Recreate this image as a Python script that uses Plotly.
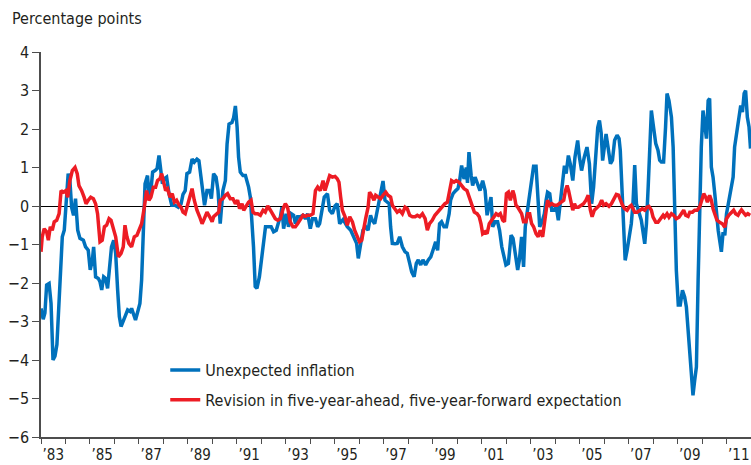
import plotly.graph_objects as go

# Unexpected inflation (blue); x in decimal years
blue_year = [
    1983.00, 1983.09, 1983.16, 1983.23, 1983.33, 1983.41, 1983.49, 1983.57, 1983.65, 1983.74,
    1983.82, 1983.87, 1983.95, 1984.02, 1984.11, 1984.18, 1984.25, 1984.33, 1984.41, 1984.50,
    1984.59, 1984.73, 1984.82, 1984.93, 1985.01, 1985.10, 1985.15, 1985.23, 1985.34, 1985.41,
    1985.48, 1985.56, 1985.64, 1985.72, 1985.80, 1985.88, 1985.97, 1986.05, 1986.13, 1986.20,
    1986.27, 1986.36, 1986.46, 1986.54, 1986.64, 1986.70, 1986.80, 1986.86, 1986.97, 1987.04,
    1987.11, 1987.18, 1987.25, 1987.35, 1987.42, 1987.49, 1987.56, 1987.66, 1987.74, 1987.82,
    1987.89, 1987.96, 1988.04, 1988.13, 1988.23, 1988.34, 1988.47, 1988.61, 1988.72, 1988.80,
    1988.89, 1988.96, 1989.07, 1989.17, 1989.26, 1989.37, 1989.45, 1989.54, 1989.62, 1989.68,
    1989.78, 1989.89, 1989.96, 1990.05, 1990.15, 1990.23, 1990.32, 1990.43, 1990.53, 1990.60,
    1990.68, 1990.80, 1990.87, 1990.94, 1991.01, 1991.07, 1991.14, 1991.25, 1991.35, 1991.42,
    1991.48, 1991.55, 1991.62, 1991.68, 1991.75, 1991.82, 1991.92, 1992.00, 1992.09, 1992.17,
    1992.30, 1992.40, 1992.50, 1992.61, 1992.71, 1992.78, 1992.84, 1992.91, 1993.02, 1993.11,
    1993.22, 1993.32, 1993.39, 1993.48, 1993.59, 1993.70, 1993.80, 1993.89, 1994.00, 1994.09,
    1994.21, 1994.30, 1994.38, 1994.48, 1994.57, 1994.70, 1994.79, 1994.90, 1995.01, 1995.10,
    1995.20, 1995.34, 1995.51, 1995.65, 1995.79, 1995.89, 1995.96, 1996.06, 1996.15, 1996.26,
    1996.36, 1996.46, 1996.53, 1996.63, 1996.71, 1996.81, 1996.89, 1996.97, 1997.05, 1997.15,
    1997.22, 1997.28, 1997.35, 1997.46, 1997.55, 1997.65, 1997.76, 1997.87, 1997.96, 1998.06,
    1998.14, 1998.24, 1998.33, 1998.41, 1998.51, 1998.60, 1998.71, 1998.82, 1998.92, 1999.01,
    1999.12, 1999.20, 1999.28, 1999.36, 1999.46, 1999.56, 1999.67, 1999.73, 1999.83, 1999.94,
    2000.03, 2000.10, 2000.18, 2000.28, 2000.37, 2000.42, 2000.48, 2000.57, 2000.63, 2000.73,
    2000.84, 2000.93, 2001.04, 2001.14, 2001.22, 2001.31, 2001.38, 2001.45, 2001.55, 2001.65,
    2001.73, 2001.82, 2001.90, 2001.99, 2002.09, 2002.20, 2002.28, 2002.36, 2002.47, 2002.54,
    2002.63, 2002.71, 2002.78, 2002.85, 2002.95, 2003.04, 2003.12, 2003.22, 2003.29, 2003.37,
    2003.47, 2003.56, 2003.63, 2003.69, 2003.78, 2003.86, 2003.97, 2004.04, 2004.13, 2004.21,
    2004.31, 2004.38, 2004.45, 2004.54, 2004.62, 2004.72, 2004.81, 2004.92, 2004.99, 2005.08,
    2005.19, 2005.30, 2005.40, 2005.49, 2005.57, 2005.67, 2005.74, 2005.81, 2005.88, 2005.94,
    2006.01, 2006.08, 2006.16, 2006.26, 2006.34, 2006.43, 2006.53, 2006.61, 2006.66, 2006.73,
    2006.80, 2006.86, 2006.94, 2007.02, 2007.11, 2007.18, 2007.25, 2007.32, 2007.39, 2007.52,
    2007.66, 2007.73, 2007.80, 2007.86, 2007.93, 2008.00, 2008.11, 2008.20, 2008.27, 2008.34,
    2008.43, 2008.51, 2008.57, 2008.65, 2008.75, 2008.82, 2008.88, 2008.95, 2009.03, 2009.11,
    2009.20, 2009.29, 2009.36, 2009.47, 2009.56, 2009.63, 2009.70, 2009.77, 2009.84, 2009.90,
    2009.97, 2010.04, 2010.11, 2010.18, 2010.25, 2010.31, 2010.38, 2010.45, 2010.52, 2010.59,
    2010.66, 2010.72, 2010.79, 2010.86, 2010.93, 2011.00, 2011.11, 2011.20, 2011.27, 2011.33,
    2011.43, 2011.51, 2011.58, 2011.65, 2011.72, 2011.78, 2011.85, 2011.92, 2011.98,
]
blue_value = [
    -2.66, -2.94, -2.78, -2.05, -2.01, -2.53, -4.00, -3.90, -3.60, -2.60,
    -1.58, -0.80, -0.63, 0.10, 0.84, 0.66, -0.03, -0.24, 0.19, -0.63,
    -0.84, -0.89, -1.06, -1.15, -1.66, -1.40, -1.06, -1.84, -1.88, -1.97,
    -2.18, -1.84, -1.88, -2.14, -1.49, -1.06, -0.89, -1.23, -2.18, -2.87,
    -3.13, -2.96, -2.83, -2.70, -2.74, -2.66, -2.83, -2.96, -2.70, -2.53,
    -1.92, -0.89, 0.58, 0.79, 0.23, 0.41, 0.88, 0.92, 0.97, 1.31,
    0.92, 0.58, 0.71, 0.75, 0.32, 0.02, 0.02, -0.03, 0.05, 0.30,
    0.40, 0.84, 0.88, 1.22, 1.14, 1.22, 1.18, 0.75, 0.23, 0.02,
    0.40, 0.40, 0.19, 0.84, 0.75, 0.40, -0.46, 0.40, 0.66, 1.61,
    2.13, 2.17, 2.30, 2.60, 2.04, 1.27, 0.88, 0.79, 0.79, 0.66,
    0.49, 0.23, -0.37, -1.06, -2.09, -2.14, -1.84, -1.40, -0.89, -0.54,
    -0.54, -0.54, -0.67, -0.63, -0.41, -0.28, -0.03, -0.59, -0.20, -0.54,
    -0.20, -0.24, -0.46, -0.28, -0.28, -0.24, -0.33, -0.20, -0.59, -0.33,
    -0.33, -0.54, -0.46, -0.11, 0.23, 0.32, -0.11, -0.20, 0.00, 0.06,
    -0.46, -0.35, -0.54, -0.63, -0.80, -0.97, -1.36, -0.89, -0.63, -0.54,
    -0.63, -0.24, -0.37, -0.46, -0.20, 0.06, 0.40, 0.65, 0.15, 0.10,
    0.06, -0.54, -0.97, -0.98, -0.97, -0.80, -1.06, -1.19, -1.23, -1.49,
    -1.71, -1.84, -1.49, -1.40, -1.53, -1.40, -1.53, -1.40, -1.32, -1.15,
    -0.93, -1.15, -0.46, -0.41, -0.54, -0.54, -0.20, 0.15, 0.32, 0.40,
    0.45, 0.66, 1.05, 0.70, 1.00, 0.60, 1.40, 0.80, 0.53, 0.75,
    0.53, 0.40, 0.66, 0.40, -0.24, 0.00, 0.23, -0.54, -0.41, -0.41,
    -0.63, -1.06, -1.32, -1.53, -1.49, -0.76, -0.84, -1.23, -1.66, -1.40,
    -0.80, -1.58, -0.54, -0.20, 0.23, 0.66, 1.03, 1.03, 0.32, -0.54,
    -0.41, -0.20, 0.15, 0.36, 0.32, -0.11, -0.11, 0.00, -0.37, 0.06,
    0.75, 1.05, 0.84, 1.31, 1.09, 0.66, 1.27, 1.70, 1.27, 0.92,
    1.27, 1.53, 1.09, 0.06, 0.49, 1.35, 2.04, 2.22, 1.90, 1.18,
    1.61, 1.87, 1.53, 1.10, 1.19, 1.71, 1.84, 1.75, 1.45, 0.32,
    -0.80, -1.41, -1.15, -0.80, -0.46, 0.06, 1.06, 0.06, -0.11, -0.37,
    -0.98, -0.46, 0.49, 1.71, 2.48, 2.14, 1.62, 1.45, 1.19, 1.14,
    1.14, 2.05, 2.92, 2.74, 2.31, 1.53, -0.37, -1.67, -2.57, -2.57,
    -2.19, -2.36, -2.62, -3.58, -4.18, -4.92, -4.53, -4.18, -1.93, -0.03,
    1.53, 2.48, 2.05, 1.75, 2.74, 2.79, 1.01, 0.75, 0.32, -0.20,
    -0.63, -0.89, -1.19, -0.68, -0.76, -0.20, 0.23, 0.58, 0.75, 1.53,
    2.00, 2.31, 2.61, 2.44, 2.92, 3.00, 2.31, 2.05, 1.49,
]

# Revision in five-year-ahead, five-year-forward expectation (red)
red_year = [
    1983.00, 1983.05, 1983.13, 1983.23, 1983.30, 1983.38, 1983.46, 1983.54, 1983.64, 1983.74,
    1983.82, 1983.91, 1984.01, 1984.09, 1984.18, 1984.28, 1984.39, 1984.48, 1984.55, 1984.66,
    1984.76, 1984.84, 1984.93, 1985.03, 1985.14, 1985.23, 1985.31, 1985.41, 1985.50, 1985.59,
    1985.68, 1985.78, 1985.86, 1985.95, 1986.05, 1986.16, 1986.27, 1986.36, 1986.43, 1986.51,
    1986.59, 1986.70, 1986.81, 1986.92, 1987.02, 1987.11, 1987.22, 1987.31, 1987.41, 1987.49,
    1987.59, 1987.68, 1987.76, 1987.86, 1987.93, 1988.01, 1988.09, 1988.17, 1988.27, 1988.36,
    1988.45, 1988.54, 1988.64, 1988.72, 1988.80, 1988.89, 1988.99, 1989.10, 1989.17, 1989.26,
    1989.37, 1989.48, 1989.58, 1989.67, 1989.78, 1989.89, 1989.99, 1990.05, 1990.16, 1990.26,
    1990.32, 1990.43, 1990.53, 1990.62, 1990.73, 1990.84, 1990.94, 1991.03, 1991.11, 1991.21,
    1991.28, 1991.37, 1991.48, 1991.58, 1991.66, 1991.75, 1991.85, 1991.96, 1992.07, 1992.16,
    1992.26, 1992.37, 1992.48, 1992.57, 1992.67, 1992.78, 1992.89, 1992.98, 1993.07, 1993.18,
    1993.29, 1993.39, 1993.48, 1993.59, 1993.70, 1993.80, 1993.89, 1994.00, 1994.11, 1994.21,
    1994.30, 1994.41, 1994.52, 1994.60, 1994.70, 1994.79, 1994.90, 1995.01, 1995.10, 1995.17,
    1995.24, 1995.31, 1995.42, 1995.51, 1995.61, 1995.72, 1995.81, 1995.92, 1996.01, 1996.10,
    1996.19, 1996.26, 1996.36, 1996.42, 1996.50, 1996.60, 1996.67, 1996.78, 1996.87, 1996.97,
    1997.08, 1997.17, 1997.28, 1997.35, 1997.46, 1997.55, 1997.65, 1997.76, 1997.87, 1997.96,
    1998.06, 1998.17, 1998.28, 1998.37, 1998.47, 1998.58, 1998.69, 1998.78, 1998.87, 1998.98,
    1999.09, 1999.19, 1999.28, 1999.39, 1999.50, 1999.60, 1999.69, 1999.77, 1999.87, 1999.96,
    2000.07, 2000.18, 2000.28, 2000.40, 2000.50, 2000.59, 2000.70, 2000.81, 2000.90, 2000.97,
    2001.04, 2001.14, 2001.22, 2001.31, 2001.41, 2001.49, 2001.59, 2001.68, 2001.76, 2001.86,
    2001.93, 2002.01, 2002.09, 2002.17, 2002.27, 2002.33, 2002.40, 2002.47, 2002.54, 2002.63,
    2002.71, 2002.81, 2002.88, 2002.96, 2003.04, 2003.12, 2003.22, 2003.31, 2003.39, 2003.49,
    2003.56, 2003.63, 2003.69, 2003.78, 2003.86, 2003.97, 2004.08, 2004.17, 2004.27, 2004.35,
    2004.42, 2004.49, 2004.55, 2004.62, 2004.72, 2004.79, 2004.85, 2004.95, 2005.06, 2005.16,
    2005.26, 2005.35, 2005.44, 2005.51, 2005.60, 2005.71, 2005.81, 2005.90, 2005.98, 2006.08,
    2006.20, 2006.30, 2006.39, 2006.50, 2006.59, 2006.66, 2006.75, 2006.84, 2006.94, 2007.02,
    2007.11, 2007.18, 2007.25, 2007.35, 2007.45, 2007.56, 2007.66, 2007.75, 2007.83, 2007.93,
    2008.00, 2008.11, 2008.20, 2008.30, 2008.41, 2008.47, 2008.57, 2008.65, 2008.75, 2008.84,
    2008.95, 2009.06, 2009.16, 2009.25, 2009.33, 2009.43, 2009.50, 2009.61, 2009.70, 2009.80,
    2009.90, 2009.97, 2010.07, 2010.15, 2010.22, 2010.31, 2010.38, 2010.45, 2010.52, 2010.61,
    2010.72, 2010.83, 2010.93, 2011.00, 2011.09, 2011.20, 2011.29, 2011.37, 2011.47, 2011.54,
    2011.61, 2011.68, 2011.78, 2011.87, 2011.97,
]
red_value = [
    -1.19, -0.80, -0.59, -0.67, -0.89, -0.54, -0.63, -0.41, -0.37, -0.20,
    0.40, 0.36, 0.40, 0.23, 0.66, 0.92, 1.00, 0.84, 0.53, 0.40,
    0.23, 0.06, 0.15, 0.23, 0.19, 0.06, -0.20, -0.93, -0.89, -0.54,
    -0.50, -0.33, -0.37, -0.54, -0.80, -1.32, -1.23, -1.06, -0.50, -0.80,
    -0.97, -1.06, -0.80, -0.76, -0.59, -0.46, -0.03, 0.40, 0.15, 0.23,
    0.49, 0.49, 0.66, 0.71, 0.84, 0.58, 0.40, 0.45, 0.23, 0.32,
    0.10, 0.15, 0.02, -0.03, -0.16, -0.20, 0.06, 0.32, 0.45, 0.15,
    -0.11, -0.28, -0.46, -0.33, -0.16, -0.28, -0.41, -0.28, -0.20, -0.16,
    0.15, 0.19, 0.28, 0.32, 0.19, 0.19, 0.06, 0.15, -0.07, 0.06,
    -0.11, -0.03, 0.10, 0.15, -0.16, -0.20, -0.20, -0.24, -0.11, -0.16,
    0.00, -0.11, -0.24, -0.33, -0.37, -0.33, -0.07, 0.06, -0.03, -0.41,
    -0.54, -0.54, -0.46, -0.33, -0.24, -0.27, -0.24, -0.24, -0.20, 0.40,
    0.49, 0.40, 0.66, 0.40, 0.62, 0.79, 0.75, 0.77, 0.71, 0.62,
    0.23, -0.11, -0.28, -0.50, -0.28, -0.41, -0.63, -0.80, -0.93, -0.89,
    -0.54, -0.33, -0.03, 0.36, 0.28, 0.15, 0.28, 0.23, 0.19, 0.28,
    0.36, 0.28, 0.23, 0.02, -0.07, -0.16, -0.11, -0.20, -0.03, -0.07,
    -0.24, -0.28, -0.28, -0.24, -0.28, -0.20, -0.33, -0.63, -0.46, -0.37,
    -0.24, -0.16, -0.11, -0.03, 0.06, 0.10, 0.40, 0.66, 0.62, 0.66,
    0.62, 0.53, 0.45, 0.40, 0.23, 0.02, -0.16, -0.20, -0.28, -0.46,
    -0.72, -0.67, -0.72, -0.46, -0.37, -0.28, -0.20, -0.24, -0.20, -0.37,
    -0.41, 0.32, 0.36, 0.15, 0.40, 0.28, 0.02, -0.03, -0.11, -0.20,
    -0.41, -0.41, -0.20, -0.20, -0.46, -0.54, -0.72, -0.80, -0.63, -0.80,
    -0.46, -0.03, 0.15, 0.02, 0.06, 0.02, 0.02, 0.06, 0.10, 0.15,
    0.40, 0.53, 0.40, 0.15, -0.11, 0.06, -0.03, -0.03, 0.02, 0.06,
    0.15, 0.28, -0.11, -0.28, -0.11, -0.03, 0.02, 0.15, 0.02, 0.06,
    -0.01, 0.06, 0.19, 0.30, 0.28, 0.15, 0.02, -0.07, -0.11, -0.03,
    0.02, -0.07, -0.16, -0.16, -0.11, -0.07, -0.11, -0.03, -0.01, -0.11,
    -0.29, -0.42, -0.42, -0.33, -0.24, -0.29, -0.20, -0.29, -0.20, -0.24,
    -0.33, -0.29, -0.20, -0.11, -0.24, -0.27, -0.16, -0.16, -0.11, -0.11,
    -0.03, 0.15, 0.32, 0.23, 0.10, 0.28, 0.15, -0.07, -0.24, -0.37,
    -0.42, -0.46, -0.55, -0.33, -0.24, -0.16, -0.11, -0.20, -0.24, -0.16,
    -0.10, -0.16, -0.24, -0.20, -0.24,
]

label_years = list(range(1983, 2012, 2))
y_ticks = list(range(-6, 5))

FONT = "DejaVu Sans Condensed, Liberation Sans Narrow, sans-serif"
AXIS = "#4d4d4d"
TEXT = "#231f20"

fig = go.Figure()
fig.add_trace(go.Scatter(
    x=blue_year, y=blue_value, mode="lines", name="Unexpected inflation",
    line=dict(color="#0071bc", width=3.5), legendgroup="a",
))
fig.add_trace(go.Scatter(
    x=red_year, y=red_value, mode="lines",
    name="Revision in five-year-ahead, five-year-forward expectation",
    line=dict(color="#ed1c24", width=3.5), legendgroup="b",
))

fig.update_layout(
    width=751, height=465,
    margin=dict(l=41, r=0, t=52, b=28, autoexpand=False),
    paper_bgcolor="white", plot_bgcolor="white",
    font=dict(family=FONT, size=16, color=TEXT),
    showlegend=True,
    legend=dict(
        x=0.175, y=0.218, xanchor="left", yanchor="top",
        bgcolor="rgba(0,0,0,0)", font=dict(size=16, color=TEXT),
        tracegroupgap=6,
    ),
    annotations=[dict(
        text="Percentage points", xref="paper", yref="paper",
        x=-0.0437, y=1.088, xanchor="left", yanchor="middle",
        showarrow=False, font=dict(size=16, color=TEXT),
    )],
)

fig.update_xaxes(
    range=[1983, 2012],
    tickvals=[y + 0.5 for y in label_years],
    ticktext=["\u2019" + str(y)[2:] for y in label_years],
    ticks="outside", ticklen=3, tickcolor="rgba(0,0,0,0)",
    minor=dict(dtick=1, tick0=1983, ticks="outside", ticklen=5,
               tickcolor=AXIS, tickwidth=1.2),
    showline=True, linecolor=AXIS, linewidth=1.5,
    showgrid=False, zeroline=False,
    tickfont=dict(size=15, color=TEXT),
)
fig.update_yaxes(
    range=[-6, 4],
    tickvals=y_ticks,
    ticktext=[("\u2212" + str(-v)) if v < 0 else str(v) for v in y_ticks],
    ticks="outside", ticklen=7, tickcolor=AXIS, tickwidth=1.2,
    showline=True, linecolor=AXIS, linewidth=1.5,
    showgrid=False,
    zeroline=True, zerolinecolor="#000000", zerolinewidth=1,
    tickfont=dict(size=16, color=TEXT),
)

# the page body has a default 8px margin; drop it so the figure fills the window
fig.write_html("out.html", config={"displayModeBar": False},
               post_script="document.body.style.margin='0';")
